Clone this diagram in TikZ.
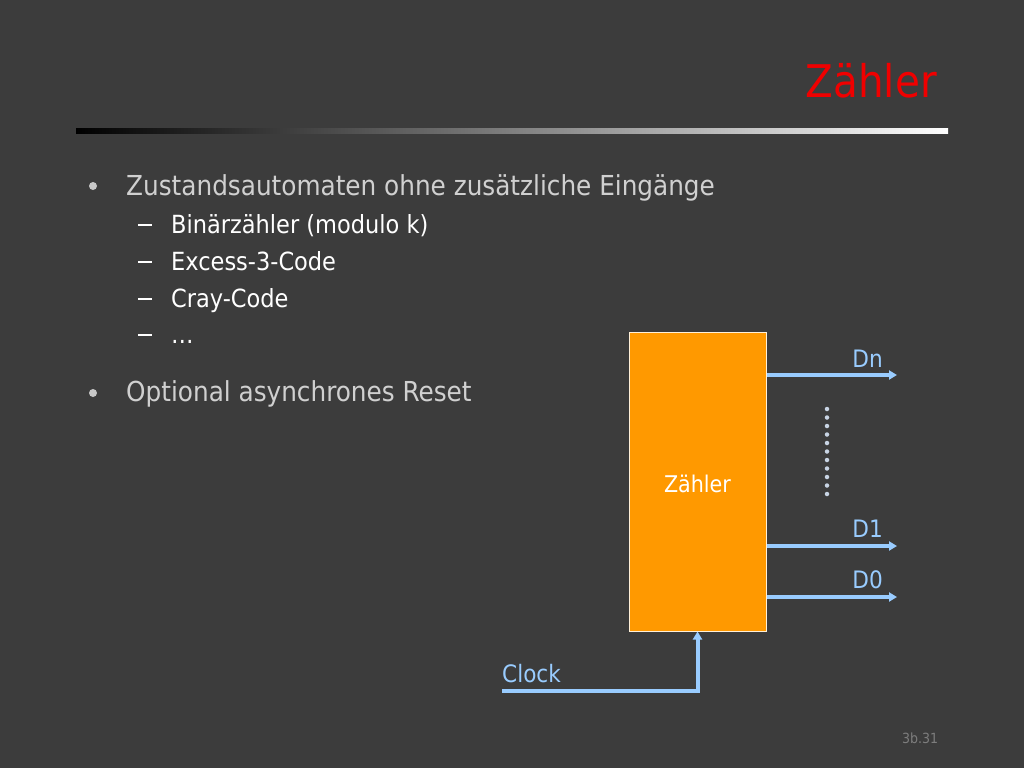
\documentclass[tikz,border=0pt]{standalone}
\usepackage{fontspec}
\setmainfont{DejaVu Sans Condensed}
\usetikzlibrary{arrows.meta}

\definecolor{bgcol}{RGB}{60,60,60}
\definecolor{titlered}{RGB}{240,0,0}
\definecolor{boxorange}{RGB}{255,153,0}
\definecolor{wireblue}{RGB}{153,204,255}
\definecolor{itemgray}{RGB}{208,208,208}
\definecolor{dotgray}{RGB}{200,200,200}
\definecolor{dotsblue}{RGB}{200,212,228}
\definecolor{pagegray}{RGB}{125,125,125}

\newcommand{\subdash}{\rule[7pt]{14pt}{2pt}\hspace{19pt}}

\begin{document}
\begin{tikzpicture}[x=1pt, y=-1pt]

    \tikzset{toptext/.style={anchor=base west, inner sep=0, text=itemgray, font=\fontsize{27.5}{30}\selectfont},
             subtext/.style={anchor=base west, inner sep=0, text=white, font=\fontsize{25}{27}\selectfont},
             wirelabel/.style={anchor=base east, inner sep=0, text=wireblue, font=\fontsize{24}{26}\selectfont},
             wire/.style={draw=wireblue, line width=4pt},
             wirearrow/.style={wire, -{Triangle[length=8pt,width=9pt]}}}

    % Hintergrund
    \fill[bgcol] (0,0) rectangle (1024,768);

    % Titel
    \node[anchor=base east, inner sep=0, text=titlered, font=\fontsize{45}{50}\selectfont] (title) at (937,97) {Zähler};
    \shade[left color=black, right color=white] (76,128) rectangle (948,133);

    % Aufzaehlung
    \fill[dotgray] (93,186) circle (4);
    \node[toptext] (item1) at (126,195) {Zustandsautomaten ohne zusätzliche Eingänge};
    \node[subtext] (sub1) at (138,233) {\subdash Binärzähler (modulo k)};
    \node[subtext] (sub2) at (138,270) {\subdash Excess-3-Code};
    \node[subtext] (sub3) at (138,307) {\subdash Cray-Code};
    \node[subtext] (sub4) at (138,343) {\subdash …};
    \fill[dotgray] (93,393) circle (4);
    \node[toptext] (item2) at (126,401) {Optional asynchrones Reset};

    % Zaehler-Baustein
    \node[draw=white!85!boxorange, line width=1pt, fill=boxorange, minimum width=137pt, minimum height=299pt,
          inner sep=0] (box) at (697.5,481.5) {};
    \node[anchor=base, inner sep=0, text=white, font=\fontsize{23}{25}\selectfont] (boxlabel) at (697.5,492) {Zähler};

    % Ausgaenge
    \coordinate (dn) at (897,375);
    \coordinate (d1) at (897,546);
    \coordinate (d0) at (897,597);
    \draw[wirearrow] (box.east |- dn) -- (dn);
    \draw[wirearrow] (box.east |- d1) -- (d1);
    \draw[wirearrow] (box.east |- d0) -- (d0);
    \node[wirelabel] (dnlabel) at (883,367) {Dn};
    \node[wirelabel] (d1label) at (883,537) {D1};
    \node[wirelabel] (d0label) at (883,588) {D0};

    \coordinate (dotstop) at (827,409);
    \coordinate (dotsbot) at (827,494);
    \draw[dotsblue, line width=4.5pt, line cap=round, dash pattern=on 0pt off 8.5pt] (dotstop) -- (dotsbot);

    % Takt
    \coordinate (clk) at (502,691);
    \draw[wirearrow] (clk) -| (box.south);
    \node[anchor=base west, inner sep=0, text=wireblue, font=\fontsize{24}{26}\selectfont] (clklabel) at (502,682) {Clock};

    % Seitenzahl
    \node[anchor=base west, inner sep=0, text=pagegray, font=\fontsize{14}{16}\selectfont] (page) at (902,743) {3b.31};

\end{tikzpicture}
\end{document}
